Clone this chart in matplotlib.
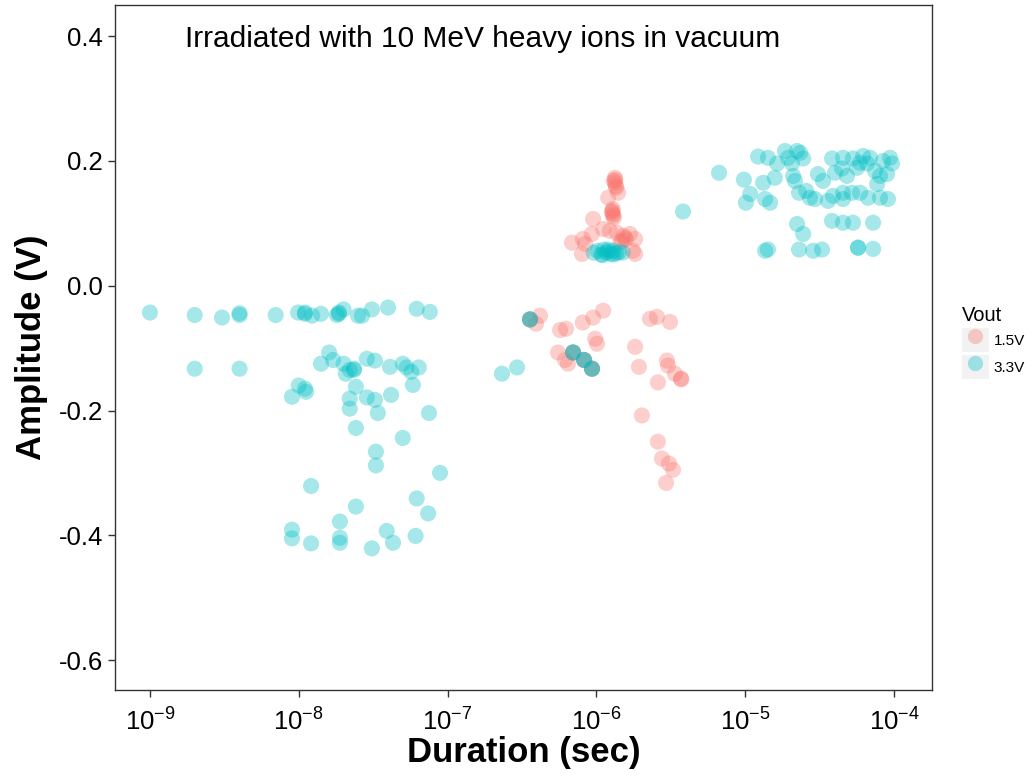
import numpy as np
import matplotlib
matplotlib.use("Agg")
import matplotlib.pyplot as plt
from matplotlib.lines import Line2D
from matplotlib.patches import Patch
from matplotlib.legend_handler import HandlerTuple

plt.rcParams['font.family'] = ['Liberation Sans', 'DejaVu Sans']
plt.rcParams['mathtext.fontset'] = 'custom'
plt.rcParams['mathtext.rm'] = 'Liberation Sans'

# 1.5V pulses: duration (s), amplitude (V)
dur_15 = [1.33e-6, 1.33e-6, 1.35e-6, 1.31e-6, 1.36e-6, 1.34e-6,
          1.29e-6, 1.29e-6, 1.31e-6, 1.27e-6, 1.30e-6, 1.28e-6,
          1.2e-6, 1.4e-6, 9.5e-7, 1.11e-6, 9.3e-7, 6.85e-7, 8.1e-7, 8.4e-7,
          8.0e-7, 1.23e-6, 1.37e-6, 1.55e-6, 1.52e-6, 1.58e-6, 1.68e-6,
          1.82e-6, 1.76e-6, 1.82e-6, 1.48e-6, 1.45e-6,
          4.18e-7, 3.93e-7, 5.7e-7, 6.25e-7, 8.1e-7, 9.5e-7, 1.11e-6, 9.8e-7,
          1.01e-6, 5.52e-7, 6.15e-7, 6.44e-7, 1.82e-6, 2.29e-6, 2.55e-6,
          3.12e-6, 1.93e-6, 2.59e-6, 2.98e-6, 3.03e-6, 3.37e-6, 3.7e-6, 3.72e-6,
          2.02e-6, 2.59e-6, 2.76e-6, 3.07e-6, 3.27e-6, 2.94e-6,
          3.58e-7, 6.97e-7, 8.26e-7, 9.34e-7,
          3.58e-7, 6.97e-7, 8.26e-7, 9.34e-7]
amp_15 = [0.173, 0.165, 0.160, 0.168, 0.157, 0.170,
          0.123, 0.115, 0.109, 0.118, 0.112, 0.120,
          0.141, 0.149, 0.107, 0.091, 0.083, 0.069, 0.075, 0.067,
          0.051, 0.088, 0.085, 0.077, 0.080, 0.074, 0.083,
          0.075, 0.056, 0.051, 0.072, 0.070,
          -0.048, -0.061, -0.071, -0.069, -0.059, -0.051, -0.040, -0.085,
          -0.093, -0.107, -0.119, -0.125, -0.098, -0.053, -0.050,
          -0.058, -0.130, -0.155, -0.120, -0.128, -0.141, -0.149, -0.150,
          -0.208, -0.250, -0.277, -0.285, -0.295, -0.316,
          -0.054, -0.107, -0.119, -0.133,
          -0.054, -0.107, -0.119, -0.133]

# 3.3V pulses: duration (s), amplitude (V)
dur_33 = [1.0e-9, 2.0e-9, 3.05e-9, 4.0e-9, 4.0e-9, 7.0e-9, 9.9e-9, 1.1e-8,
          1.1e-8, 1.23e-8, 1.41e-8, 1.8e-8, 1.86e-8, 1.86e-8, 2.0e-8, 2.5e-8,
          2.66e-8, 3.1e-8, 3.98e-8, 6.2e-8, 7.6e-8,
          2.0e-9, 4.0e-9, 1.6e-8, 1.41e-8, 1.7e-8, 2.0e-8, 2.2e-8, 2.35e-8,
          2.35e-8, 2.07e-8, 2.87e-8, 3.25e-8, 4.1e-8, 5.0e-8, 5.3e-8, 5.7e-8,
          6.4e-8, 5.85e-8, 1.0e-8, 1.1e-8, 1.12e-8, 9.0e-9, 2.42e-8, 2.2e-8,
          2.87e-8, 3.25e-8, 4.17e-8, 2.2e-8, 3.4e-8, 7.5e-8, 2.42e-8, 5.0e-8,
          3.3e-8, 3.3e-8, 8.9e-8, 1.21e-8, 6.2e-8, 2.42e-8, 7.4e-8, 1.89e-8,
          9.0e-9, 9.0e-9, 1.21e-8, 1.89e-8, 1.89e-8, 3.1e-8, 3.9e-8, 4.3e-8,
          6.1e-8,
          2.32e-7, 2.93e-7, 3.58e-7, 6.97e-7, 8.26e-7, 9.34e-7,
          3.58e-7, 6.97e-7, 8.26e-7, 9.34e-7,
          9.6e-7, 1.02e-6, 1.08e-6, 1.12e-6, 1.16e-6, 1.2e-6, 1.25e-6, 1.3e-6,
          1.36e-6, 1.42e-6, 1.5e-6, 1.1e-6, 1.2e-6, 1.3e-6, 3.82e-6,
          6.67e-6, 9.8e-6, 1.08e-5, 1.01e-5, 1.22e-5, 1.32e-5, 1.36e-5, 1.47e-5,
          1.42e-5, 1.58e-5, 1.64e-5, 1.85e-5, 1.94e-5, 2.06e-5, 2.23e-5,
          2.34e-5, 2.45e-5, 2.1e-5, 2.16e-5, 2.3e-5, 2.57e-5, 2.72e-5, 2.94e-5,
          3.08e-5, 3.33e-5, 3.83e-5, 4.01e-5, 3.6e-5, 3.89e-5, 4.54e-5,
          4.47e-5, 4.83e-5, 4.54e-5, 4.54e-5, 5.3e-5, 5.64e-5, 5.91e-5, 6.2e-5,
          6.59e-5, 5.22e-5, 5.91e-5, 6.69e-5, 6.9e-5, 7.45e-5, 8.05e-5,
          8.43e-5, 8.97e-5, 9.4e-5, 9.7e-5, 8.05e-5, 9.1e-5, 7.7e-5, 2.23e-5,
          2.45e-5, 3.83e-5, 4.54e-5, 5.3e-5, 7.23e-5, 1.36e-5, 1.42e-5,
          2.3e-5, 2.86e-5, 3.28e-5, 5.73e-5, 5.73e-5, 7.23e-5]
amp_33 = [-0.043, -0.047, -0.051, -0.047, -0.044, -0.047, -0.043, -0.045,
          -0.043, -0.048, -0.045, -0.047, -0.043, -0.045, -0.038, -0.048,
          -0.048, -0.038, -0.035, -0.037, -0.042,
          -0.133, -0.133, -0.107, -0.125, -0.119, -0.125, -0.135, -0.135,
          -0.133, -0.141, -0.117, -0.120, -0.130, -0.125, -0.131, -0.138,
          -0.131, -0.159, -0.160, -0.165, -0.170, -0.178, -0.162, -0.181,
          -0.179, -0.183, -0.175, -0.197, -0.204, -0.204, -0.228, -0.244,
          -0.266, -0.288, -0.300, -0.321, -0.341, -0.354, -0.365, -0.378,
          -0.391, -0.405, -0.413, -0.404, -0.412, -0.421, -0.393, -0.412,
          -0.401,
          -0.141, -0.131, -0.054, -0.107, -0.119, -0.133,
          -0.054, -0.107, -0.119, -0.133,
          0.053, 0.056, 0.050, 0.058, 0.053, 0.055, 0.051, 0.056,
          0.052, 0.054, 0.053, 0.049, 0.058, 0.050, 0.119,
          0.181, 0.170, 0.147, 0.133, 0.207, 0.165, 0.139, 0.133,
          0.205, 0.173, 0.196, 0.216, 0.205, 0.196, 0.216,
          0.213, 0.204, 0.176, 0.168, 0.149, 0.152, 0.141, 0.139,
          0.179, 0.168, 0.204, 0.181, 0.136, 0.144, 0.205,
          0.188, 0.176, 0.149, 0.139, 0.204, 0.189, 0.197, 0.208,
          0.196, 0.149, 0.149, 0.141, 0.205, 0.184, 0.176,
          0.200, 0.179, 0.205, 0.196, 0.141, 0.139, 0.163, 0.099,
          0.083, 0.104, 0.101, 0.101, 0.101, 0.056, 0.058,
          0.058, 0.056, 0.058, 0.061, 0.061, 0.059]

red = '#F8766D'
teal = '#00BFC4'

fig = plt.figure(figsize=(10.32, 7.78), dpi=100)
ax = fig.add_axes([0.1114, 0.1131, 0.7917, 0.8805])

ax.scatter(dur_15, amp_15, s=135, color=red, alpha=0.35, edgecolors='none')
ax.scatter(dur_33, amp_33, s=135, color=teal, alpha=0.35, edgecolors='none')

ax.set_xscale('log')
ax.set_xlim(10 ** -9.235, 10 ** -3.745)
ax.set_ylim(-0.648, 0.45)
ax.set_xticks([1e-9, 1e-8, 1e-7, 1e-6, 1e-5, 1e-4])
ax.set_xticklabels([r'$10^{-9}$', r'$10^{-8}$', r'$10^{-7}$',
                    r'$10^{-6}$', r'$10^{-5}$', r'$10^{-4}$'])
ax.minorticks_off()
ax.set_yticks([0.4, 0.2, 0.0, -0.2, -0.4, -0.6])
ax.set_yticklabels(['0.4', '0.2', '0.0', '-0.2', '-0.4', '-0.6'])
ax.tick_params(labelsize=18.5, length=5, width=1, color='#333333', labelcolor='black')
ax.tick_params(axis='x', pad=7)
for sp in ax.spines.values():
    sp.set_color('#333333')
    sp.set_linewidth(1)

ax.set_xlabel('Duration (sec)', fontsize=25, fontweight='bold', labelpad=1)
ax.set_ylabel('Amplitude (V)', fontsize=25, fontweight='bold', labelpad=8)

ax.text(0.0857, 0.9387, 'Irradiated with 10 MeV heavy ions in vacuum',
        transform=ax.transAxes, fontsize=21.5, ha='left', va='baseline')

handles = [(Patch(facecolor='#F2F2F2', edgecolor='none'),
            Line2D([], [], ls='none', marker='o', ms=11, mec='none', mfc=red, alpha=0.35)),
           (Patch(facecolor='#F2F2F2', edgecolor='none'),
            Line2D([], [], ls='none', marker='o', ms=11, mec='none', mfc=teal, alpha=0.35))]
leg = fig.legend(handles, ['1.5V', '3.3V'], title='Vout', loc='upper left',
                 bbox_to_anchor=(0.932, 0.607), frameon=False, fontsize=11,
                 title_fontsize=14.5, handler_map={tuple: HandlerTuple(ndivide=1)},
                 handlelength=1.75, handleheight=2.0, handletextpad=0.35,
                 labelspacing=0.22, borderpad=0.0, borderaxespad=0.0)
leg._legend_box.align = 'left'

fig.savefig('out.png', dpi=100)
